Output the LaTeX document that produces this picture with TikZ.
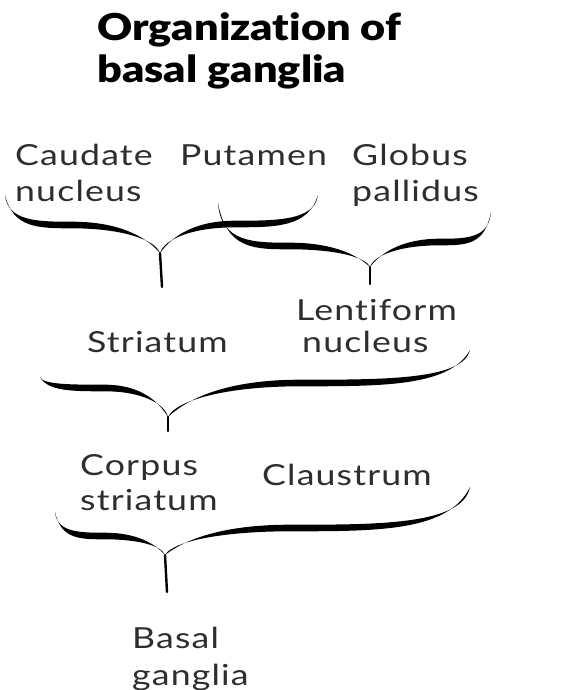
\documentclass[tikz,border=0pt]{standalone}
\usepackage{fontspec}
\setmainfont{Lato}
\newfontfamily\lblfont[FakeStretch=1.23,LetterSpace=4,RawFeature={-liga;-dlig;-clig}]{Lato}
\newfontfamily\ttlfont[FakeStretch=1.17,RawFeature={-liga;-dlig;-clig}]{Lato Black}
\definecolor{lblgray}{HTML}{2E2E2E}
\newcommand{\twolines}[3]{\vtop{\baselineskip=#3pt\hbox{#1}\hbox{#2}}}
% arm of a calligraphic brace: end E, middle M, tip T, half width w
\newcommand{\bracearm}[7]{%
  \fill ({#1},{#2})
    .. controls ({#1+0.12*(#3-#1)},{#4+#7}) and ({#1+0.5*(#3-#1)},{#4+#7}) .. ({#3},{#4+#7})
    .. controls ({#3+0.55*(#5-#3)},{#4+#7}) and ({#5-0.06*(#5-#3)},{#4+0.5*(#6-#4)}) .. ({#5},{#6})
    .. controls ({#5-0.18*(#5-#3)},{#4+0.35*(#6-#4)}) and ({#3+0.5*(#5-#3)},{#4-#7}) .. ({#3},{#4-#7})
    .. controls ({#1+0.5*(#3-#1)},{#4-#7}) and ({#1+0.04*(#3-#1)},{#4-#7}) .. ({#1},{#2}) -- cycle;}
\tikzset{
  lbl/.style={inner sep=0pt, anchor=base west, text=lblgray, font=\lblfont\fontsize{29}{35}\selectfont},
  ttl/.style={inner sep=0pt, anchor=base west, text=black, font=\ttlfont\fontsize{37}{42}\selectfont},
  stem/.style={line width=2.4pt, line cap=round}
}
\begin{document}
\begin{tikzpicture}[x=1pt,y=-1pt]
\useasboundingbox (0,0) rectangle (565,690);
\fill[white] (0,0) rectangle (565,690);
% title
\node[ttl] (title1) at (97,41) {Organization of};
\node[ttl] (title2) at (97,83) {basal ganglia};
% labels
\node[lbl] (caudate) at (15,165) {\twolines{Caudate}{nucleus}{36}};
\node[lbl] (putamen) at (180,165) {Putamen};
\node[lbl] (globus) at (352,165) {\twolines{Globus}{pallidus}{36}};
\node[lbl] (striatum) at (87,352) {Striatum};
\node[lbl] (lentiform) at (296,320) {\twolines{Lentiform}{\hspace*{6pt}nucleus}{32}};
\node[lbl] (corpus) at (80,475) {\twolines{Corpus}{striatum}{35}};
\node[lbl] (claustrum) at (262,485) {Claustrum};
\node[lbl] (basal) at (132,648) {\twolines{Basal}{ganglia}{37}};
% brace 1 (caudate + putamen)
\coordinate (b1T) at (160,253);
\coordinate (b1S) at (162,287);
\bracearm{5}{195}{72}{225}{160}{253}{3.3}
\bracearm{318}{195}{235}{224}{160}{253}{3.3}
\draw[stem] (b1T) -- (b1S);
% brace 2 (putamen + globus pallidus)
\coordinate (b2T) at (370,267);
\coordinate (b2S) at (370,284);
\bracearm{218}{203}{290}{246}{370}{267}{3.3}
\bracearm{491}{212}{440}{242}{370}{267}{3.3}
\draw[stem] (b2T) -- (b2S);
% brace 3 (striatum + lentiform)
\coordinate (b3T) at (168,417);
\coordinate (b3S) at (168,431);
\bracearm{40}{377}{105}{388}{168}{417}{3.3}
\bracearm{470}{350}{300}{383}{168}{417}{3.3}
\draw[stem] (b3T) -- (b3S);
% brace 4 (corpus striatum + claustrum)
\coordinate (b4T) at (165,555);
\coordinate (b4S) at (167,592);
\bracearm{55}{512}{105}{536}{165}{555}{3.3}
\bracearm{470}{487}{290}{528}{165}{555}{3.3}
\draw[stem] (b4T) -- (b4S);
\end{tikzpicture}
\end{document}
